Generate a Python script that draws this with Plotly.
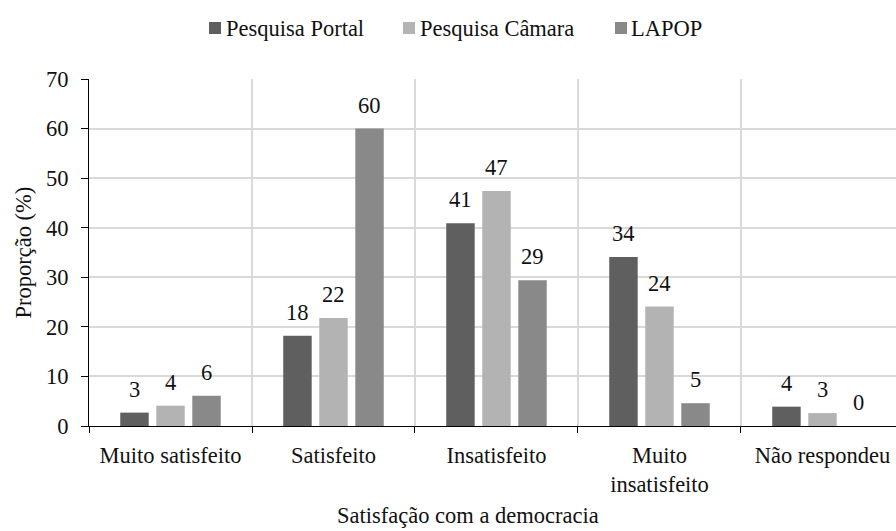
import plotly.graph_objects as go

categories = ["Muito satisfeito", "Satisfeito", "Insatisfeito", "Muito<br>insatisfeito", "Não respondeu"]
series_names = ["Pesquisa Portal", "Pesquisa Câmara", "LAPOP"]
portal = [2.7, 18.2, 40.9, 34.1, 3.9]
camara = [4.1, 21.8, 47.4, 24.1, 2.6]
lapop = [6.1, 60.0, 29.4, 4.6, 0.0]
colors = ["#5f5f5f", "#b3b3b3", "#898989"]

FONT = "'Liberation Serif', 'Times New Roman', Times, serif"
FS = 22.5
TXT = "#111111"
bargap = 0.337
bargroupgap = 0.21

W, H = 896, 531
ML, MR, MT, MB = 89, 0, 79, 105
PW, PH = W - ML - MR, H - MT - MB


def px(x):
    return (x - ML) / PW


def py(y):
    return (H - MB - y) / PH


fig = go.Figure()
all_series = [portal, camara, lapop]
for name, vals, col in zip(series_names, all_series, colors):
    fig.add_trace(go.Bar(name=name, x=categories, y=vals, showlegend=False,
                         marker=dict(color=col, line=dict(width=0))))

# data labels (rounded values) above each bar
n = len(all_series)
slot = (1 - bargap) / n
annotations = []
for j, vals in enumerate(all_series):
    off = (j - (n - 1) / 2) * slot
    for i, v in enumerate(vals):
        annotations.append(dict(x=i + off, y=v, xref="x", yref="y", text=str(int(round(v))),
                                showarrow=False, yanchor="bottom", yshift=9,
                                font=dict(family=FONT, size=FS, color=TXT)))

annotations.append(dict(x=px(468), y=py(515), xref="paper", yref="paper", text="Satisfação com a democracia",
                        showarrow=False, xanchor="center", yanchor="middle",
                        font=dict(family=FONT, size=FS, color=TXT)))
annotations.append(dict(x=px(23), y=0.5, xref="paper", yref="paper", text="Proporção (%)",
                        showarrow=False, textangle=-90, xanchor="center", yanchor="middle",
                        font=dict(family=FONT, size=FS, color=TXT)))

# manual legend (square swatch + label)
legend_sq_x = [209, 403, 615]
legend_tx_x = [224, 418, 629]
shapes = []
for name, col, sx, tx in zip(series_names, colors, legend_sq_x, legend_tx_x):
    shapes.append(dict(type="rect", xref="paper", yref="paper", x0=px(sx), x1=px(sx + 12),
                       y0=py(34), y1=py(22), fillcolor=col, line=dict(width=0)))
    annotations.append(dict(x=px(tx), y=py(28), xref="paper", yref="paper", text=name,
                            showarrow=False, xanchor="left", yanchor="middle",
                            font=dict(family=FONT, size=FS, color=TXT)))

fig.update_layout(
    width=W, height=H,
    margin=dict(l=ML, r=MR, t=MT, b=MB),
    paper_bgcolor="white", plot_bgcolor="white",
    barmode="group", bargap=bargap, bargroupgap=bargroupgap,
    font=dict(family=FONT, size=FS, color=TXT),
    showlegend=False,
    annotations=annotations,
    shapes=shapes,
    xaxis=dict(type="category", range=[-0.5, 4.451], tickson="boundaries", showgrid=True,
               gridcolor="#d9d9d9", gridwidth=1.5, ticks="outside", ticklen=6, tickcolor="black",
               ticklabelstandoff=9,
               showline=True, linecolor="black", linewidth=1, zeroline=False,
               tickfont=dict(family=FONT, size=FS, color=TXT)),
    yaxis=dict(range=[0, 70], dtick=10, showgrid=True, gridcolor="#d9d9d9", gridwidth=1.5,
               ticks="outside", ticklen=7, tickcolor="black", showline=True, linecolor="black",
               ticklabelstandoff=8,
               linewidth=1, zeroline=False, tickfont=dict(family=FONT, size=FS, color=TXT)),
)

fig.write_html("out.html", config={"displayModeBar": False},
               post_script="document.body.style.margin='0';document.body.style.overflow='hidden';")
